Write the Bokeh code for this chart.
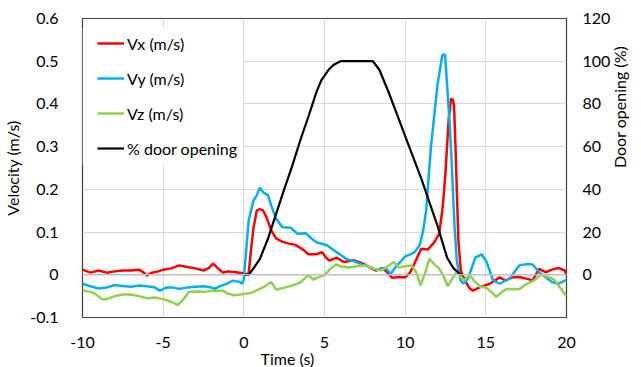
import math
from bokeh.plotting import figure
from bokeh.models import (Range1d, LinearAxis, FixedTicker, Legend, LegendItem, Span, Title,
                          BoxAnnotation)
from bokeh.embed import file_html
from bokeh.resources import INLINE

# ---------------- data ----------------
t_vx = [-10, -9.5, -9, -8.5, -8, -7.5, -7, -6.5, -6.2, -6, -5.7, -5.3, -5, -4.5, -4, -3.5, -3, -2.5, -2.2, -1.9,
        -1.6, -1.3, -1, -0.5, -0.1, 0, 0.3, 0.45, 0.6, 0.8, 1.0, 1.2, 1.4, 1.7, 2.0, 2.4, 2.8, 3.2, 3.5, 3.8,
        4.0, 4.5, 4.85, 5.1, 5.3, 5.75, 6.2, 6.8, 7.1, 7.4, 7.8, 8.2, 8.6, 8.9, 9.2, 9.6, 10.0, 10.3, 10.5, 10.8,
        11.0, 11.4, 11.8, 12.1, 12.3, 12.4, 12.5, 12.7, 12.85, 12.95, 13.03, 13.13, 13.2, 13.3, 13.45, 13.55, 13.7, 14.0, 14.2, 14.65,
        15.25, 15.86, 16.2, 16.67, 17.1, 17.5, 17.9, 18.3, 18.7, 19.1, 19.5, 19.9, 20]
vx = [0.012, 0.005, 0.010, 0.005, 0.008, 0.010, 0.010, 0.012, 0.005, -0.002, 0.005, 0.008, 0.012, 0.015, 0.022, 0.018, 0.015, 0.010, 0.015, 0.026,
      0.015, 0.005, 0.008, 0.006, 0.004, 0.0, 0.003, 0.06, 0.11, 0.15, 0.154, 0.15, 0.135, 0.104, 0.085, 0.077, 0.073, 0.070, 0.063, 0.055,
      0.048, 0.048, 0.053, 0.040, 0.033, 0.040, 0.030, 0.034, 0.030, 0.026, 0.017, 0.010, 0.016, 0.005, -0.007, -0.005, -0.006, 0.005, 0.020, 0.045,
      0.061, 0.059, 0.076, 0.095, 0.15, 0.19, 0.24, 0.366, 0.413, 0.41, 0.397, 0.288, 0.20, 0.08, 0.01, 0.0, -0.013, -0.032, -0.037, -0.029,
      -0.021, -0.006, -0.013, -0.006, -0.005, -0.009, -0.013, 0.014, 0.006, 0.012, 0.016, 0.010, -0.002]

t_vy = [-10, -9.5, -9, -8.5, -8, -7.5, -7, -6.5, -6, -5.5, -5.2, -4.8, -4.4, -4, -3.5, -3, -2.5, -2, -1.8, -1.5,
        -1, -0.7, -0.3, -0.1, 0, 0.15, 0.3, 0.6, 0.8, 1.0, 1.2, 1.5, 1.7, 2.0, 2.4, 2.9, 3.33, 3.84, 4.2, 4.5,
        5.15, 5.75, 6.36, 6.8, 7.2, 7.8, 8.2, 8.8, 9.1, 9.4, 9.7, 10.0, 10.4, 10.6, 10.9, 11.1, 11.3, 11.6, 12.0, 12.3,
        12.47, 12.6, 12.75, 12.9, 13.05, 13.2, 13.43, 13.6, 13.9, 14.35, 14.75, 15.05, 15.45, 15.86, 16.47, 17.07, 17.5, 17.9, 18.3, 18.7,
        19.1, 19.5, 20]
vy = [-0.021, -0.027, -0.032, -0.030, -0.024, -0.026, -0.028, -0.025, -0.027, -0.030, -0.037, -0.030, -0.030, -0.033, -0.030, -0.028, -0.027, -0.030, -0.033, -0.027,
      -0.020, -0.014, -0.016, -0.021, -0.010, 0.060, 0.127, 0.174, 0.186, 0.204, 0.193, 0.186, 0.162, 0.131, 0.111, 0.110, 0.096, 0.097, 0.085, 0.076,
      0.069, 0.053, 0.037, 0.032, 0.026, 0.018, 0.012, 0.016, 0.002, 0.018, 0.030, 0.043, 0.049, 0.054, 0.069, 0.10, 0.15, 0.30, 0.444, 0.514,
      0.516, 0.444, 0.36, 0.25, 0.12, 0.033, -0.013, -0.021, -0.009, 0.040, 0.048, 0.030, -0.013, -0.021, -0.009, 0.022, 0.025, 0.024, 0.006, -0.006,
      -0.017, -0.021, -0.012]

t_vz = [-10, -9.5, -9.2, -8.8, -8.5, -8, -7.5, -7, -6.5, -6, -5.5, -5, -4.5, -4.1, -3.8, -3.4, -3, -2.5, -2, -1.3,
        -1, -0.6, 0, 0.5, 1.0, 1.3, 1.7, 2.0, 2.5, 3.0, 3.5, 4.0, 4.3, 4.7, 5.0, 5.4, 5.7, 6.0, 6.5, 7.0,
        7.5, 8.0, 8.5, 9.0, 9.3, 9.6, 10.0, 10.4, 10.7, 10.95, 11.2, 11.5, 11.8, 12.1, 12.4, 12.65, 12.9, 13.2, 13.45, 13.65,
        14.0, 14.3, 14.65, 15.0, 15.4, 15.65, 16.0, 16.3, 16.7, 17.1, 17.5, 18.0, 18.4, 18.8, 19.2, 19.6, 20]
vz = [-0.037, -0.040, -0.045, -0.057, -0.057, -0.050, -0.046, -0.046, -0.050, -0.055, -0.053, -0.057, -0.063, -0.071, -0.060, -0.040, -0.039, -0.040, -0.038, -0.037,
      -0.044, -0.048, -0.045, -0.042, -0.033, -0.027, -0.017, -0.035, -0.030, -0.025, -0.018, 0.0, -0.011, -0.005, 0.0, 0.015, 0.024, 0.020, 0.017, 0.020,
      0.022, 0.015, 0.010, 0.022, 0.030, 0.017, 0.020, 0.022, 0.005, -0.025, 0.0, 0.037, 0.025, 0.015, -0.005, -0.027, -0.010, 0.006, -0.005, -0.013,
      0.0, -0.015, -0.028, -0.030, -0.042, -0.052, -0.040, -0.033, -0.034, -0.033, -0.022, -0.013, 0.0, -0.005, -0.010, -0.030, -0.050]

t_door = [0, 0.3, 0.6, 1.0, 1.5, 2.0, 2.5, 3.0, 3.5, 4.0, 4.5, 4.8, 5.25, 5.6, 6.0, 8.0, 8.4, 9.0, 9.6, 10.3,
          11.0, 11.5, 12.0, 12.6, 13.0, 13.45, 13.6]
door = [0, 0, 3, 7.5, 17, 28.5, 40, 51, 63, 74, 85.5, 91, 96, 98.5, 100, 100, 96, 85, 73, 59,
        45, 34, 23, 8, 3, 0, 0]

x_ticks = [-10, -5, 0, 5, 10, 15, 20]
x_labels = ["-10", "-5", "0", "5", "10", "15", "20"]
y_ticks = [-0.1, 0.0, 0.1, 0.2, 0.3, 0.4, 0.5, 0.6]
y_labels = ["-0.1", "0", "0.1", "0.2", "0.3", "0.4", "0.5", "0.6"]
r_ticks = [0, 20, 40, 60, 80, 100, 120]
r_labels = ["0", "20", "40", "60", "80", "100", "120"]

series_names = ["Vx (m/s)", "Vy (m/s)", "Vz (m/s)", "% door opening"]
colors = ["#FF0000", "#00B0F0", "#92D050", "#000000"]

FONT = "Lato"
FS = "16px"

p = figure(width=641, height=367, output_backend="svg", toolbar_location=None,
           x_range=Range1d(-10, 20), y_range=Range1d(-0.1, 0.6),
           min_border_left=80, min_border_right=66, min_border_top=18, min_border_bottom=50)
p.background_fill_color = "white"
p.border_fill_color = "white"
p.outline_line_color = "#404040"
p.outline_line_width = 1.2

p.extra_y_ranges = {"door": Range1d(-20, 120)}

# grid
p.xgrid.grid_line_color = "#D9D9D9"
p.ygrid.grid_line_color = "#D9D9D9"
p.xgrid.ticker = FixedTicker(ticks=x_ticks)
p.ygrid.ticker = FixedTicker(ticks=y_ticks)
p.add_layout(Span(location=0, dimension="width", line_color="#BFBFBF", line_width=1.5))

# white area behind the legend (hides grid lines)
p.add_layout(BoxAnnotation(left=-10, right=-0.05, bottom=0.258, top=0.578,
                           fill_color="white", fill_alpha=1.0, line_color=None, level="underlay"))

# axes
def style_axis(ax):
    ax.major_tick_line_color = None
    ax.minor_tick_line_color = None
    ax.axis_line_color = None
    ax.major_label_text_font = FONT
    ax.major_label_text_font_size = FS
    ax.major_label_text_color = "#000000"
    ax.axis_label_text_font = FONT
    ax.axis_label_text_font_size = FS
    ax.axis_label_text_font_style = "normal"
    ax.axis_label_text_color = "#000000"

xa = p.xaxis[0]
style_axis(xa)
xa.ticker = FixedTicker(ticks=x_ticks)
xa.major_label_overrides = dict(zip(x_ticks, x_labels))
xa.major_label_standoff = 13

ya = p.yaxis[0]
style_axis(ya)
ya.ticker = FixedTicker(ticks=y_ticks)
ya.major_label_overrides = dict(zip(y_ticks, y_labels))
ya.major_label_standoff = 18
ya.axis_label = "Velocity (m/s)"
ya.axis_label_standoff = 5

ra = LinearAxis(y_range_name="door")
style_axis(ra)
ra.ticker = FixedTicker(ticks=r_ticks)
ra.major_label_overrides = dict(zip(r_ticks, r_labels))
ra.major_label_standoff = 10
ra.axis_label = "Door opening (%)"
ra.axis_label_standoff = 6
ra.axis_label_orientation = math.pi / 2
p.add_layout(ra, "right")

# lines
r_vx = p.line(t_vx, vx, line_color=colors[0], line_width=2.5)
r_vy = p.line(t_vy, vy, line_color=colors[1], line_width=2.5)
r_vz = p.line(t_vz, vz, line_color=colors[2], line_width=2.5)
r_door = p.line(t_door, door, line_color=colors[3], line_width=2.2, y_range_name="door")

# x title
xt = Title(text="Time (s)", align="left", offset=178, text_font=FONT, text_font_size=FS,
           text_font_style="normal", text_color="#000000", standoff=-8)
p.add_layout(xt, "below")

legend = Legend(items=[LegendItem(label=n, renderers=[r]) for n, r in
                       zip(series_names, [r_vx, r_vy, r_vz, r_door])],
                location=(15, 159), orientation="vertical")
legend.label_text_font = FONT
legend.label_text_font_size = FS
legend.label_text_color = "#000000"
legend.glyph_width = 27
legend.glyph_height = 20
legend.label_height = 20
legend.label_standoff = 3
legend.spacing = 15
legend.padding = 0
legend.margin = 0
legend.border_line_color = None
legend.background_fill_color = "white"
legend.background_fill_alpha = 0.0
p.add_layout(legend, "center")

open("out.html", "w").write(file_html(p, INLINE))
